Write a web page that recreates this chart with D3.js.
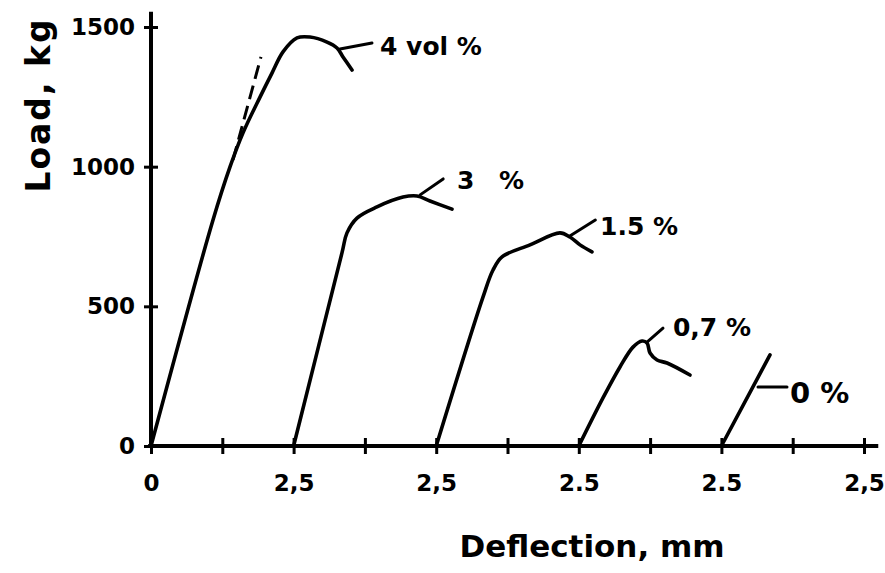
<!DOCTYPE html>
<html>
<head>
<meta charset="utf-8">
<script src="https://cdn.jsdelivr.net/npm/d3@7"></script>
<style>
  html, body { margin: 0; padding: 0; background: #fff; }
  svg { display: block; }
  text { font-family: "DejaVu Sans", sans-serif; fill: #000; font-weight: bold; }
</style>
</head>
<body>
<svg id="chart" width="885" height="573"></svg>
<script>
// ---------- data ----------
// Each curve starts from its own origin on the deflection axis
const seriesNames = ["4 vol %", "3 %", "1.5 %", "0,7 %", "0 %"];
const seriesOrigins = [0, 2.5, 5, 7.5, 10];           // mm, where each curve starts

const deflection4 = [0, 1.087, 1.385, 1.613, 1.911, 2.121, 2.314, 2.560, 2.787, 3.086, 3.261, 3.366, 3.524];
const load4       = [0, 809, 999, 1121, 1249, 1335, 1411, 1461, 1464, 1446, 1425, 1393, 1346];

const deflection3 = [0, 0.85, 0.936, 1.111, 1.462, 1.918, 2.163, 2.391, 2.777];
const load3       = [0, 693, 763, 816, 856, 891, 895, 877, 848];

const deflection15 = [0, 0.82, 0.996, 1.154, 1.644, 2.170, 2.345, 2.521, 2.731];
const load15       = [0, 533, 630, 677, 720, 763, 748, 720, 695];

const deflection07 = [0, 0.424, 0.722, 0.950, 1.108, 1.196, 1.249, 1.372, 1.547, 1.950];
const load07       = [0, 172, 283, 354, 376, 369, 333, 308, 297, 254];

const deflection0 = [0, 0.852];
const load0       = [0, 326];

// dashed tangent next to the 4 vol % curve (local mm, kg)
const tangentDeflection = [1.438, 1.928];
const tangentLoad       = [1024, 1393];

// leader lines: from a point on the curve to the label (local mm, kg)
const leaderFromDeflection = [3.313, 2.218, 2.343, 1.196, 0.642];
const leaderFromLoad       = [1421, 899, 752, 372, 211];
const leaderToDeflection   = [3.874, 2.622, 2.790, 1.476, 1.150];
const leaderToLoad         = [1443, 956, 809, 422, 211];
// where each label text starts (local mm, kg)
const labelDeflection = [4.015, 2.865, 2.872, 1.651, 1.202];
const labelLoad       = [1432, 952, 788, 426, 193];

// axes
const xTickValues = [0, 1.25, 2.5, 3.75, 5, 6.25, 7.5, 8.75, 10, 11.25, 12.5];
const xTickLabels = ["0", "", "2,5", "", "2,5", "", "2.5", "", "2.5", "", "2,5"];
const yTickValues = [0, 500, 1000, 1500];
const yTickLabels = ["0", "500", "1000", "1500"];
const xTitle = "Deflection, mm";
const yTitle = "Load, kg";

// ---------- drawing ----------
const svg = d3.select("#chart");
const x = d3.scaleLinear().domain([0, 12.5]).range([151, 864]);
const y = d3.scaleLinear().domain([0, 1500]).range([446, 27]);

const ink = "#000";

// x axis
const xAxis = d3.axisBottom(x)
  .tickValues(xTickValues)
  .tickFormat((d, i) => xTickLabels[i])
  .tickSizeInner(8).tickSizeOuter(0).tickPadding(15);
const gx = svg.append("g").attr("transform", `translate(0,${y(0)})`).call(xAxis);
gx.select(".domain").remove();
gx.append("line").attr("x1", x(-0.05)).attr("x2", x(12.75)).attr("y1", 0).attr("y2", 0)
  .attr("stroke", ink).attr("stroke-width", 4);
gx.selectAll(".tick line").attr("y1", -8).attr("y2", 8).attr("stroke", ink).attr("stroke-width", 3);
gx.selectAll(".tick text").attr("font-size", 23).attr("fill", ink)
  .attr("font-family", "DejaVu Sans, sans-serif").attr("font-weight", "bold").attr("dy", "0.95em");

// y axis
const yAxis = d3.axisLeft(y)
  .tickValues(yTickValues)
  .tickFormat((d, i) => yTickLabels[i])
  .tickSizeInner(7).tickSizeOuter(0).tickPadding(9);
const gy = svg.append("g").attr("transform", `translate(${x(0)},0)`).call(yAxis);
gy.select(".domain").remove();
gy.append("line").attr("x1", 0).attr("x2", 0).attr("y1", y(0)).attr("y2", y(1555))
  .attr("stroke", ink).attr("stroke-width", 4);
gy.selectAll(".tick line").attr("x1", -7).attr("x2", 7).attr("stroke", ink).attr("stroke-width", 3);
gy.selectAll(".tick text").attr("font-size", 23).attr("fill", ink)
  .attr("font-family", "DejaVu Sans, sans-serif").attr("font-weight", "bold");

// curves
const curveData = [
  [deflection4, load4],
  [deflection3, load3],
  [deflection15, load15],
  [deflection07, load07],
  [deflection0, load0]
];
const line = d3.line()
  .x(d => x(d[0]))
  .y(d => y(d[1]))
  .curve(d3.curveCatmullRom.alpha(0.5));

curveData.forEach(([dx, ld], i) => {
  const pts = dx.map((v, j) => [seriesOrigins[i] + v, ld[j]]);
  svg.append("path").datum(pts).attr("d", line)
    .attr("fill", "none").attr("stroke", ink).attr("stroke-width", 3.6)
    .attr("stroke-linecap", "round").attr("stroke-linejoin", "round");
});

// dashed tangent
svg.append("path")
  .datum(tangentDeflection.map((v, j) => [seriesOrigins[0] + v, tangentLoad[j]]))
  .attr("d", d3.line().x(d => x(d[0])).y(d => y(d[1])))
  .attr("fill", "none").attr("stroke", ink).attr("stroke-width", 3)
  .attr("stroke-dasharray", "14,7");

// leaders and labels
seriesNames.forEach((name, i) => {
  const o = seriesOrigins[i];
  svg.append("line")
    .attr("x1", x(o + leaderFromDeflection[i])).attr("y1", y(leaderFromLoad[i]))
    .attr("x2", x(o + leaderToDeflection[i])).attr("y2", y(leaderToLoad[i]))
    .attr("stroke", ink).attr("stroke-width", 3).attr("stroke-linecap", "round");
  svg.append("text")
    .attr("x", x(o + labelDeflection[i])).attr("y", y(labelLoad[i]))
    .attr("dy", "0.36em")
    .attr("font-size", i === 4 ? 29 : 25)
    .attr("word-spacing", i === 1 ? 16 : 0)
    .text(name);
});

// axis titles
svg.append("text").attr("x", 592).attr("y", 557)
  .attr("text-anchor", "middle").attr("font-size", 31).text(xTitle);
svg.append("text").attr("transform", `translate(50,105) rotate(-90)`)
  .attr("text-anchor", "middle").attr("font-size", 33).attr("letter-spacing", 2).text(yTitle);
</script>
</body>
</html>
